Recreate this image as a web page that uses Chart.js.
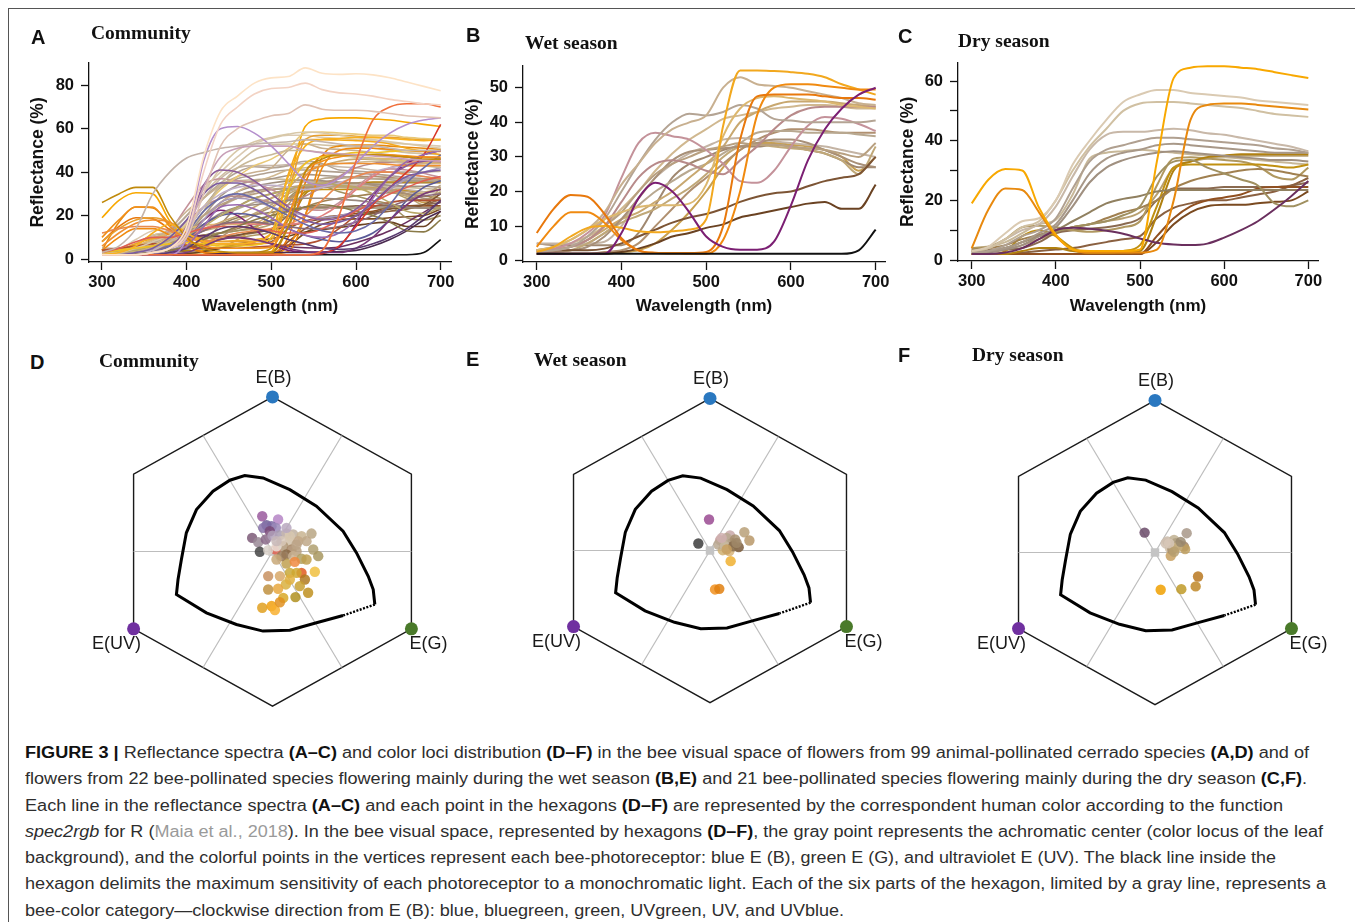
<!DOCTYPE html>
<html>
<head>
<meta charset="utf-8">
<script src="https://cdn.jsdelivr.net/npm/chart.js@4.4.0/dist/chart.umd.min.js"></script>
<style>
  html, body { margin: 0; padding: 0; background: #fff; }
  body { width: 1355px; height: 922px; position: relative; overflow: hidden; font-family: "Liberation Sans", Arial, sans-serif; }
  .frame { position: absolute; left: 8px; top: 8px; right: 0; bottom: 0; border-top: 1.5px solid #555; border-left: 1.5px solid #555; }
  canvas { position: absolute; }
  .tag { position: absolute; font: bold 20px/20px "Liberation Sans", Arial, sans-serif; color: #111; }
  .ttl { position: absolute; font: bold 19.5px/20px "Liberation Serif", "Times New Roman", serif; color: #111; }
  #caption { position: absolute; left: 25px; top: 740px; font: 16px/26.25px "Liberation Sans", Arial, sans-serif; color: #2e2e2e; white-space: nowrap; }
  #caption div { display: block; height: 26.25px; }
  #caption span.ln { display: inline-block; transform-origin: 0 50%; }
  #caption b { color: #111; }
  .ref { color: #9a9a9a; }
</style>
</head>
<body>
<div class="frame"></div>

<canvas id="chartA"></canvas>
<canvas id="chartB"></canvas>
<canvas id="chartC"></canvas>
<canvas id="chartD"></canvas>
<canvas id="chartE"></canvas>
<canvas id="chartF"></canvas>

<div class="tag" style="left:31px;top:27px">A</div>
<div class="ttl" style="left:91px;top:23px">Community</div>
<div class="tag" style="left:466px;top:25px">B</div>
<div class="ttl" style="left:525px;top:33px">Wet season</div>
<div class="tag" style="left:898px;top:26px">C</div>
<div class="ttl" style="left:958px;top:31px">Dry season</div>
<div class="tag" style="left:30px;top:352px">D</div>
<div class="ttl" style="left:99px;top:351px">Community</div>
<div class="tag" style="left:466px;top:349px">E</div>
<div class="ttl" style="left:534px;top:350px">Wet season</div>
<div class="tag" style="left:898px;top:345px">F</div>
<div class="ttl" style="left:972px;top:345px">Dry season</div>

<div id="caption">
  <div><span class="ln"><b>FIGURE 3 |</b> Reflectance spectra <b>(A–C)</b> and color loci distribution <b>(D–F)</b> in the bee visual space of flowers from 99 animal-pollinated cerrado species <b>(A,D)</b> and of</span></div>
  <div><span class="ln">flowers from 22 bee-pollinated species flowering mainly during the wet season <b>(B,E)</b> and 21 bee-pollinated species flowering mainly during the dry season <b>(C,F)</b>.</span></div>
  <div><span class="ln">Each line in the reflectance spectra <b>(A–C)</b> and each point in the hexagons <b>(D–F)</b> are represented by the correspondent human color according to the function</span></div>
  <div><span class="ln"><i>spec2rgb</i> for R (<span class="ref">Maia et al., 2018</span>). In the bee visual space, represented by hexagons <b>(D–F)</b>, the gray point represents the achromatic center (color locus of the leaf</span></div>
  <div><span class="ln">background), and the colorful points in the vertices represent each bee-photoreceptor: blue E (B), green E (G), and ultraviolet E (UV). The black line inside the</span></div>
  <div><span class="ln">hexagon delimits the maximum sensitivity of each photoreceptor to a monochromatic light. Each of the six parts of the hexagon, limited by a gray line, represents a</span></div>
  <div><span class="ln">bee-color category—clockwise direction from E (B): blue, bluegreen, green, UVgreen, UV, and UVblue.</span></div>
</div>

<script>
// ---------- spectra data (reflectance %) ----------
const wavelengths = [300, 320, 340, 360, 380, 400, 420, 440, 460, 480, 500, 520, 540, 560, 580, 600, 620, 640, 660, 680, 700];
const xTicks = [300, 400, 500, 600, 700];
const yTicksA = [0, 20, 40, 60, 80];
const yTicksB = [0, 10, 20, 30, 40, 50];
const yTicksC = [0, 10, 20, 30, 40, 50, 60];
const yLabelsC = [0, 20, 40, 60];

// wet season species (panel B)
const wetSeries = [
  [2,2,2,2,2,2,2,2,2,2,2,2,2,2,2,2,2,2,2,3,9],
  [2,2,2,2,2,8,18,22.5,20,14,7,4,3.2,3.2,5.5,16,29,38,44,48,50],
  [8,15,19,18.5,13.5,6.5,3,2.3,2.2,2.2,2.5,10,35,47.5,48,48,48,47.5,47,47,46.5],
  [4,10,14,14,11,6,3,2.2,2.1,2,2,6,20,42,50,51,51,50.5,50,49.5,49.5],
  [2.5,4,7,9.5,10,9.5,8.5,8.2,8.5,9,12,39,55,55,54.8,54.5,54,53,51,49.5,48],
  [3,4,6,9,12,14,15.5,16,16,16.5,22,36,44,47,47.5,47,46.5,46,45,44.5,44],
  [3,4,6,9,14,22,28,34,38,40,42,50,53,51,50.5,50,49,48,47,45.5,45],
  [2.5,3,4,7,12,20,28,35,40,42.5,42,43,45,44,41,40.5,40,40,40,40,40.5],
  [3,3.5,5,8,13,24,34,37,36,35,32,28,23,22.5,26,33,39,41.5,41,39.5,37.5],
  [3,3,4,6,10,17,24,28,29,28,26,25,29,33,38,42,44,44.5,44.5,44.5,44.5],
  [3,3,3,3,3.5,5,7,9,11,12.5,13.5,15,17,18.5,19.5,20,21.5,23,24,25,30],
  [2,2,2,2,2,2.5,3.5,5,7,8,9.5,10.5,12.5,13.5,14.5,15.5,16.5,17,15,15,22],
  [2.5,3,4,6,10,14,20,25,28,30,32,33,34,33.5,33.5,33,32.5,32,31,30,34],
  [2,2.5,3,4,7,12,18,24,29,31.5,32,32.5,33,34,35,35,34,32,30,28,27],
  [2,2.5,3,5,8,11,13,15,18,21,25,30,33,33.5,33,32.5,32,31,29,25,33],
  [2.5,3,4,6,9,12,14,17,20,24,28,33,40,43,45,46,46,46,45.5,45,44.5],
  [5,5,5,5,5.5,10,18,24,28,31,33,35,35.5,35,34.5,34,33.5,33,32,31,30],
  [3,3.5,4,5,8,12,16,20,23,26,28,31,34,37,37.5,37.5,37,37,37,36.5,36],
  [5,4.5,4.5,4.5,4.5,4.5,8,16,24,28,30,32,33,33,33.5,33,32,31,29,27,27],
  [3,4,5,7,10,15,20,26,31,35,38,41,42,43,44,44.5,45,45,44.5,44,44],
  [2,2,2,2,2.5,3,5,10,15,20,24,28,32,35,37,38,38,37.5,37,37,37],
  [2,2,2,2,2,2.5,3,5,9,14,20,27,32,34,34,33.5,33,32,30,26,30]
];
const wetColors = ['#111111','#7b1f73','#e8780c','#f08a10','#f2a81e','#dcb870','#c8b090','#b4a494','#c4929a','#b88a8a',
  '#7c5434','#6a4222','#b8a080','#a89078','#c0a878','#c8a870','#c4b4a4','#b8a890','#a08870','#d0b890','#b09070','#c8a050'];

// dry season species (panel C)
const drySeries = [
  [19,27,30.5,30,17.5,8.5,3.5,3,3,3,3.5,33,61,64.5,65,65,64.5,64,63,62,61],
  [4,17,24,23.5,16,8,3.5,2.5,2.5,2.5,2.5,3.5,20,47,52,52.5,52.5,52,51.5,51,50.5],
  [2,2,2.5,4,7,10,10.8,10.5,9.8,8.8,7.2,5.8,5.2,5,5.5,7.5,10,13,17,21.5,26.5],
  [3,4.5,9,13,14,20,32,40,47,53,55.5,57,57,56,55.5,55,54.5,53.5,53,52.5,52],
  [3,4,7,11,13,20,30,38,44,50,52.5,53,53,52.5,52,51.5,51,50,49,48.5,48],
  [3,4,7,10,12,18,28,37,42,43,43,43.5,44,43.5,42.5,42,41,40,39,38,36.5],
  [2.5,3,5,8,10,14,24,33,37,38.5,40,41,41,40.5,40,39.5,39,38.5,37.5,37,36],
  [2.5,3,4,6,9,12,20,29,34,36,37,38.5,39,38.5,38,37.5,37,36.5,36,36,36],
  [2,2.5,3.5,5,8,11,18,26,31,33.5,35,36,36.5,36,35.5,35,34.5,34,33.5,33.5,33],
  [2.5,3,4,6,8,9.5,11,12,13,15,18,28,33,33.5,31,29,27,25,19,18,20],
  [3,3,4,6,8,10,13,16,19,20.5,21.5,23,23.5,23.5,23.5,23.5,23.5,23.5,23.5,23.5,23.5],
  [3.5,4,5,7,8.5,10,11,12,14,16,17.5,20,24,26.5,28,29,30,30.5,30,29,28],
  [2,2,3,8,10,8,4,2.5,2.5,3,5,18,31,32,32,32,32,32,31.5,31,32],
  [2,2,2,3,4,4,3,2.5,2.5,2.5,3,15,30,33,34.5,35,35.5,35.5,35.5,35.5,35.5],
  [2,2,2,2,2,2,2,2,2,2,2,8,14,18,20,21,22,24,24.5,24.5,24.5],
  [2,2,2,2,2,2,2,2,2,2,2,6,12,16,18,18.5,18.5,19,19.5,20,23],
  [2,2,2,2.5,3,3.5,4,5,6,7,8,14,17.5,19,20,20,21,22,23,25,27.5],
  [4,4.5,7,11,11.5,11,10,9.5,10,11,13,25,34,34.5,34,33.5,33,31.5,28,27,31],
  [3.5,3.5,3.5,4,6,9,10,10.5,11,12,14,20,24,24,24,24.5,24.5,24.5,24.5,25,26],
  [4,4.5,6,9,12,13.5,22,34,36,36.5,37,36.5,36,35.5,35,34.5,34,33.5,33,32.5,32],
  [3,3,3.5,5,7,9,11,12,13,14,16,22,31,33,34,34.5,35,35,35,35,35]
];
const dryColors = ['#f8a800','#e8890e','#6a2f5e','#dacab2','#d0c0a2','#c8b8a8','#b0a090','#a89888','#a09080','#a09060',
  '#908060','#a08050','#c09010','#b08010','#905020','#7a4a20','#8a6040','#b09860','#8a6a50','#c8b898','#b8a070'];

// further community species (panel A only)
const extraSeries = [
  [2,2,2,3,5,15,47,68,75,81,83.4,84,88,85.5,85,85.3,84.8,83.5,81.5,79.5,77.5],
  [2,2,2,3,5,12,40,62,70,76,78.5,79,81,78,76.5,76,75,73.5,72.5,71.5,71],
  [2,2,2,3,5,10,30,52,60,63.5,66,67,71,69,68.5,68.5,68,67,66,65.5,65],
  [2,2,2,2,2,2,2,2,2,2,2,2,2,4,20,45,64,70,71.5,71.5,70],
  [3,6,14,30,40,46.5,49,51,52,53,53.5,54,55,54,53,52,52,51,50,50,50],
  [2,2,2,2,2,10,45,60,61,58,52,44,36,34,37,44,52,58,62,64,65],
  [2,2,2,3,5,12,33,47,51,52,52,52,50,49,48.5,48,47.5,47,46,45.5,45],
  [26,30,33,33,20,10,5,3.5,3,3,3,15,40,46,48,48,48,47.5,47,46,46],
  [10,18,24,24,15,9,6,5,5,5,5.5,20,40,45,47,48,48,48,47.5,47,47],
  [2,2,3,5,10,18,30,35,35,32,27,22,18,16,17,20,26,33,38,40,41],
  [2,2,2,3,5,15,34,41,40,36,30,24,20,18,19,23,30,38,43,45,46],
  [2,2,2,3,6,12,22,28,30,28,24,20,16,13,12,13,17,25,35,42,48],
  [2,2,2,2,3,5,10,14,15,14,12,9,7,5,4.5,5,7,10,14,20,27],
  [2,2,2,2,2,3,6,9,10,9,7,5,3.5,3,3,5,10,18,25,30,32],
  [2,2,2,2,3,6,15,24,25,23,19,14,11,10,12,18,28,38,45,48,50],
  [3,5,8,10,10,12,14,15,15,14,13,12,12,14,18,22,26,30,33,36,38],
  [2,2,2,2,2,2,2,2,2,2,2,2,2,2.5,6,15,25,33,40,48,62],
  [3,4,5,6,7,7.5,7,6,6,6.5,10,32,44,47,48,49,49,49.5,50,50,50],
  [2,3,6,12,16,12,8,7,7,8,12,38,52,55,55.5,56,56,55.5,55,54.5,55],
  [6,12,16.5,18,17,12,8,7,7,7,7.5,20,38,43,44,44,44,43.5,43,43,43],
  [12,14,15,15,13,10,8,10,12,13,14,16,20,27,34,38,40,40,39,38,37],
  [2.5,3,5,8,11,17,30,42,50,54,56,57.5,58.5,58,57,56,55,54,53,52,51],
  [2,2.5,3,5,8,12,22,34,42,46,48,50,50,49,48,47,46,45,44,43,42],
  [3,3.5,4,6,8,11,15,20,24,28,30,32,34,35,34,33,30,26,22,21,24],
  [2,2,2.5,3,4,6,9,12,15,18,20,22,24,25,24,22,20,17,13,12.5,18],
  [2,2,2.5,4,8,14,24,30,33,34,34,33,32,33,35,38,40,42,43,43,43],
  [2,2.5,3,4,6,9,13,16,17,17,16,15,14,14,15,17,20,24,27,29,30],
  [2,2,2,3,5,9,16,20,21,20,17,14,11,9,8,9,12,18,27,33,36],
  [2,2,2.5,3,5,9,14,16,16.5,16,16,16,17,20,25,32,38,42,44,45,45],
  [3,3,4,6,10,16,24,32,38,43,46,51,58,58.5,58,57.5,57,57,56,55.5,55],
  [2,2.5,3,4,6,10,16,21,24,25,26,27,28,28,27.5,27,26,25,24,23.5,23],
  [2,2,2,2.5,4,8,18,26,28,27,24,22,20,19,20,22,26,32,37,40,42],
  [2,2,2,2,2,2,2,2.5,3,3,3,3,3,3,3.5,4,6,9,13,18,22],
  [4,5,6,7,7,6,5,5,5,5.5,6,6.5,7,9,14,20,24,26,27,27,27],
  [8,14,18,19,17,12,9,8,8,8,9,30,55,57,57,56.5,56,56,55.5,55,55]
];
const extraColors = ['#fde3c6','#f3d3c4','#e0c2b4','#f0703c','#c4b4aa','#b48ecc','#c8a0b8','#c08a0c','#f0901c','#7a5aa0',
  '#8a5a9a','#6a6aa8','#5a3a70','#7a3a7a','#9a6ab0','#e06050','#d83828','#f0c020','#f8b020','#f09030',
  '#e88a50','#d8c8a8','#c8b898','#b8a868','#8a7a48','#c0b0c8','#8a6a78','#5a5a98','#e08080','#e8c878',
  '#9a8a80','#a898b8','#4a2a50','#b05030','#e8a030'];

// ---------- bee hexagon data (hexagon units, vertex E(B) = (0,1)) ----------
const receptorNames = ['E(B)', 'E(G)', 'E(UV)'];
const receptors = [{x: 0, y: 1}, {x: 0.866, y: -0.5}, {x: -0.866, y: -0.5}];
const receptorColors = ['#2a78c0', '#4a7a2a', '#7030a0'];
const hexVertices = [[0,1],[0.866,0.5],[0.866,-0.5],[0,-1],[-0.866,-0.5],[-0.866,0.5],[0,1]];
const spokes = [[[-0.866,0],[0.866,0]], [[-0.433,0.75],[0.433,-0.75]], [[0.433,0.75],[-0.433,-0.75]]];
const locusSolid = [[0.44,-0.414],[0.274,-0.461],[0.108,-0.509],[-0.059,-0.515],[-0.225,-0.472],[-0.412,-0.397],
  [-0.599,-0.278],[-0.589,-0.181],[-0.568,-0.052],[-0.537,0.121],[-0.474,0.271],[-0.371,0.39],[-0.266,0.461],
  [-0.173,0.491],[-0.059,0.476],[0.108,0.40],[0.274,0.293],[0.44,0.131],[0.524,-0.009],[0.597,-0.16],
  [0.628,-0.246],[0.638,-0.343]];
const locusDotted = [[0.638,-0.343],[0.44,-0.414]];

const lociD = [[-0.064,0.228],[0.035,0.207],[-0.037,0.170],[-0.006,0.164],[-0.058,0.153],[0.021,0.153],[-0.017,0.131],
  [-0.127,0.088],[-0.089,0.060],[-0.042,0.078],[0.046,0.106],[-0.079,-0.002],[0.021,0.013],[-0.027,0.009],[0.087,0.116],
  [0.129,0.110],[0.181,0.099],[0.243,0.116],[0.108,0.067],[0.160,0.067],[0.067,0.034],[0.119,0.013],[0.150,0.002],
  [0.087,-0.019],[0.129,-0.030],[0.254,0.013],[0.285,-0.030],[0.181,-0.047],[0.087,-0.078],[0.139,-0.067],[0.181,-0.138],
  [0.264,-0.131],[0.202,-0.181],[0.108,-0.138],[0.150,-0.138],[-0.027,-0.159],[0.046,-0.159],[0.083,-0.213],[-0.027,-0.246],
  [0.035,-0.241],[0.222,-0.267],[0.143,-0.295],[0.067,-0.300],[-0.064,-0.364],[-0.006,-0.353],[0.015,-0.379],[0.046,-0.328],
  [0.025,0.034],[0.056,0.067],[0,0.103],[0.108,0.099],[0.150,0.045],[0.212,0.067],[0.056,-0.030],[0.025,0.067],
  [0.087,0.153],[0.212,-0.052],[0.025,-0.052],[0.108,-0.181],[0.170,-0.224]];
const lociDColors = ['#9a5a9e','#b585c5','#6e5d96','#7c6aa3','#8873aa','#9a88b8','#7a4a78','#7c5a78','#9a8a96','#8a6a88',
  '#a89cb0','#444444','#e06050','#d8d0c8','#c8b8b0','#c0b0a0','#c8b490','#b8a684','#d0c0a8','#c4a888','#b09878','#a88868',
  '#b8a080','#8a6a48','#c8b090','#b0a070','#a89860','#b0a060','#c0a050','#f08a40','#e05a20','#f0c040','#b07a20','#c8a838',
  '#d0a830','#c89060','#d8a868','#d8b040','#c09040','#e8a840','#c09020','#b09020','#d8a828','#e0a020','#f0a010','#f8b030',
  '#e09020','#e8e0d8','#d8c8b8','#b0a0b8','#d8c8b0','#bca488','#c0a888','#9a7a58','#c8b8b8','#b8a8c0','#c0a050','#c8a878',
  '#e0b040','#c8a030'];

const lociE = [[-0.074,0.046],[-0.006,0.204],[0.064,0.068],[0.127,0.099],[0.218,0.120],[0.250,0.066],[0.138,0.050],
  [0.182,0.022],[0.085,0.050],[0.106,0.083],[0.081,0.002],[0.123,-0.004],[0.131,-0.070],[0.032,-0.256],[0.059,-0.252],
  [0.053,0.039],[0.159,0.072],[0.095,0.028],[0.074,0.083],[0.148,0.028],[0.106,0.007],[0.169,0.050]];
const lociEColors = ['#3c3c3c','#9a4a92','#c8a0a0','#c8a8a8','#b8a078','#b89868','#8a6a48','#7a5a3a','#c0b098','#b8a890',
  '#d0b070','#d8b478','#f0b030','#f09020','#e08010','#b8a890','#a89070','#c8b8a0','#d0b0b0','#8a7050','#c8a060','#a08868'];

const lociF = [[-0.066,0.131],[0.201,0.127],[0.078,0.072],[0.121,0.083],[0.100,0.050],[0.153,0.050],[0.184,0.039],
  [0.191,0.022],[0.095,0.028],[0.100,-0.022],[0.273,-0.158],[0.258,-0.223],[0.167,-0.241],[0.036,-0.245],[0.068,0.061],
  [0.131,0.061],[0.110,0.018],[0.142,0.035],[0.090,0.060],[0.163,0.070],[0.121,0.005]];
const lociFColors = ['#6a4a68','#a89888','#c8b8a8','#c0b090','#b8a890','#8a6a50','#a08060','#c0a060','#d0c0a8','#c8a060',
  '#b87820','#c08828','#c09a28','#f0a000','#d0c0b0','#b0a080','#a89070','#c8b080','#d8c8b8','#9a8a70','#b8a070'];

// ---------- helpers ----------
Chart.defaults.font.family = '"Liberation Sans", Arial, sans-serif';
const toXY = pairs => pairs.map(p => ({x: p[0], y: p[1]}));
function withAlpha(hex, a) {
  const n = parseInt(hex.slice(1), 16);
  return `rgba(${(n >> 16) & 255}, ${(n >> 8) & 255}, ${n & 255}, ${a})`;
}
function placeCanvas(id, left, top, w, h) {
  const c = document.getElementById(id);
  c.width = w; c.height = h;
  c.style.left = left + 'px'; c.style.top = top + 'px';
  c.style.width = w + 'px'; c.style.height = h + 'px';
  return c.getContext('2d');
}

// Reflectance spectra panel
function spectraChart(id, box, series, colors, lineWidth, yRange, yTicks, yLabels) {
  const ctx = placeCanvas(id, box.left, box.top, box.w, box.h);
  return new Chart(ctx, {
    type: 'line',
    data: {
      datasets: series.map((vals, i) => ({
        data: wavelengths.map((w, j) => ({x: w, y: vals[j]})),
        borderColor: colors[i],
        borderWidth: lineWidth,
        pointRadius: 0,
        cubicInterpolationMode: 'monotone',
        fill: false
      }))
    },
    options: {
      responsive: false,
      animation: false,
      events: [],
      layout: { autoPadding: false, padding: { top: 12, right: 12, left: 0, bottom: 0 } },
      plugins: { legend: { display: false }, tooltip: { enabled: false } },
      scales: {
        x: {
          type: 'linear', min: box.xMin, max: box.xMax,
          afterBuildTicks: s => { s.ticks = xTicks.map(v => ({value: v})); },
          afterFit: s => { s.height = box.xH; },
          grid: { drawOnChartArea: false, tickLength: 8, tickColor: '#111', tickWidth: 1.3 },
          border: { color: '#111', width: 1.3 },
          ticks: { color: '#111', font: { size: 16.5, weight: 'bold' }, padding: 3, maxRotation: 0, autoSkip: false },
          title: { display: true, text: 'Wavelength (nm)', color: '#111', font: { size: 17, weight: 'bold' } }
        },
        y: {
          type: 'linear', min: yRange[0], max: yRange[1],
          afterBuildTicks: s => { s.ticks = yTicks.map(v => ({value: v})); },
          afterFit: s => { s.width = box.yW; },
          grid: { drawOnChartArea: false, tickLength: 8, tickColor: '#111', tickWidth: 1.3 },
          border: { color: '#111', width: 1.3 },
          ticks: {
            color: '#111', font: { size: 16.5, weight: 'bold' }, padding: 7, autoSkip: false,
            callback: v => (yLabels.includes(v) ? v : '')
          },
          title: { display: true, text: 'Reflectance (%)', color: '#111', font: { size: 17.5, weight: 'bold' } }
        }
      }
    }
  });
}

// receptor labels around the hexagon
const receptorLabels = {
  id: 'receptorLabels',
  afterDatasetsDraw(chart) {
    const {ctx, scales: {x, y}} = chart;
    const shift = [[1, -19], [17, 15], [-17, 15]];
    ctx.save();
    ctx.font = '18px "Liberation Sans", Arial, sans-serif';
    ctx.fillStyle = '#1a1a1a';
    ctx.textAlign = 'center';
    ctx.textBaseline = 'middle';
    receptorNames.forEach((name, i) => {
      ctx.fillText(name, x.getPixelForValue(receptors[i].x) + shift[i][0], y.getPixelForValue(receptors[i].y) + shift[i][1]);
    });
    ctx.restore();
  }
};

// Bee colour hexagon panel
function hexChart(id, g, loci, lociColors) {
  const w = 2.5 * g.sx, h = 2.4 * g.sy;
  const ctx = placeCanvas(id, Math.round(g.cx - w / 2), Math.round(g.cy - h / 2), Math.round(w), Math.round(h));
  const line = (pts, color, width, order, dash) => ({
    data: toXY(pts), showLine: true, borderColor: color, borderWidth: width,
    borderDash: dash || [], pointRadius: 0, tension: 0, order: order
  });
  return new Chart(ctx, {
    type: 'scatter',
    data: {
      datasets: [
        { data: toXY(loci), backgroundColor: lociColors.map(c => withAlpha(c, 0.85)), pointRadius: 5.2, borderWidth: 0, order: 0 },
        { data: receptors, backgroundColor: receptorColors, pointRadius: 6.5, borderWidth: 0, order: 1 },
        { data: [{x: 0, y: 0}], pointStyle: 'rect', backgroundColor: '#c4c4c4', pointRadius: 6, borderWidth: 0, order: 2 },
        line(locusSolid, '#000', 3, 3),
        line(locusDotted, '#000', 2.4, 3, [2, 1.5]),
        ...spokes.map(s => line(s, '#bdbdbd', 1.2, 4)),
        line(hexVertices, '#1a1a1a', 1.4, 5)
      ]
    },
    options: {
      responsive: false,
      animation: false,
      events: [],
      layout: { autoPadding: false, padding: 0 },
      plugins: { legend: { display: false }, tooltip: { enabled: false } },
      scales: {
        x: { type: 'linear', min: -1.25, max: 1.25, display: false },
        y: { type: 'linear', min: -1.2, max: 1.2, display: false }
      }
    },
    plugins: [receptorLabels]
  });
}

// ---------- build panels ----------
spectraChart('chartA', {left: 24, top: 46, w: 439, h: 275, yW: 65, xH: 59, xMin: 284.65, xMax: 712.2},
  [...extraSeries, ...wetSeries, ...drySeries], [...extraColors, ...wetColors, ...dryColors], 1.6,
  [-1.35, 90.3], yTicksA, yTicksA);
spectraChart('chartB', {left: 459, top: 49, w: 438, h: 272, yW: 64, xH: 59, xMin: 283.8, xMax: 711},
  wetSeries, wetColors, 2, [-0.37, 56.3], yTicksB, yTicksB);
spectraChart('chartC', {left: 894, top: 46, w: 436, h: 275, yW: 64, xH: 60, xMin: 283.7, xMax: 711.5},
  drySeries, dryColors, 2, [-0.33, 66.1], yTicksC, yLabelsC);

hexChart('chartD', {cx: 272.7, cy: 552, sx: 160.3, sy: 154.7}, lociD, lociDColors);
hexChart('chartE', {cx: 710, cy: 551, sx: 157.4, sy: 152.2}, lociE, lociEColors);
hexChart('chartF', {cx: 1154.3, cy: 552.7, sx: 157.4, sy: 152.2}, lociF, lociFColors);

// fit every caption line to the width it has in the figure
const captionWidths = [1284, 1282, 1258, 1298, 1251, 1301, 0];
const lines = [...document.querySelectorAll('#caption .ln')];
const scales = lines.map((ln, i) => captionWidths[i] ? captionWidths[i] / ln.getBoundingClientRect().width : 0);
scales[6] = (scales[1] + scales[2] + scales[4]) / 3;
lines.forEach((ln, i) => { ln.style.transform = `scaleX(${scales[i]})`; });
</script>
</body>
</html>
